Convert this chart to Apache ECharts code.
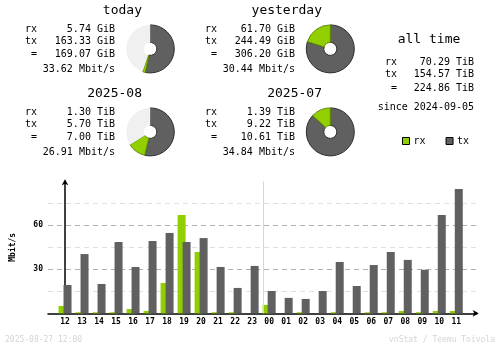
<!DOCTYPE html>
<html>
<head>
<meta charset="utf-8">
<script src="https://cdn.jsdelivr.net/npm/echarts@6/dist/echarts.min.js"></script>
<style>
  html, body { margin: 0; padding: 0; background: #ffffff; }
  #chart { width: 500px; height: 348px; }
</style>
</head>
<body>
<div id="chart"></div>
<script>
// vnStat-style summary: period totals with donuts, plus hourly rates.
const periodNames = ['today', 'yesterday', '2025-08', '2025-07'];
const periodRx = [5.74, 61.70, 1.30, 1.39];
const periodTx = [163.33, 244.49, 5.70, 9.22];
const periodTotal = [169.07, 306.20, 7.00, 10.61];
const periodUnit = ['GiB', 'GiB', 'TiB', 'TiB'];
const periodRate = [33.62, 30.44, 26.91, 34.84];
// each donut is scaled against this period's total (the previous period)
const compareWith = [1, 1, 3, 3];

const allTimeRx = 70.29;
const allTimeTx = 154.57;
const allTimeTotal = 224.86;
const allTimeUnit = 'TiB';
const sinceDate = '2024-09-05';

const hours = ['12', '13', '14', '15', '16', '17', '18', '19', '20', '21', '22', '23',
               '00', '01', '02', '03', '04', '05', '06', '07', '08', '09', '10', '11'];
const rxRate = [5.0, 0.7, 0.7, 0.7, 2.9, 1.6, 20.7, 67.0, 41.8, 0.7, 0.7, 0.0,
                5.7, 0.0, 0.7, 0.0, 0.7, 0.0, 0.7, 0.7, 1.6, 0.7, 1.6, 1.6];
const txRate = [19.3, 40.4, 20.0, 48.6, 31.6, 49.3, 54.8, 48.6, 51.3, 31.6, 17.3, 32.3,
                15.2, 10.5, 9.8, 15.2, 35.0, 18.6, 32.9, 41.8, 36.4, 29.7, 67.0, 84.8];
const yTickLabels = [30, 60];
const dayBreakAt = 11.5;   // between hour 23 and 00
const stampText = '2025-08-27 12:00';
const creditText = 'vnStat / Teemu Toivola';

const RX = '#92cf00';
const TX = '#606060';
const MONO = '"DejaVu Sans Mono", "Liberation Mono", monospace';

const chart = echarts.init(document.getElementById('chart'), null, { renderer: 'canvas' });

function txt(x, y, text, align, size, color, extra) {
  return Object.assign({
    type: 'text', x: x, y: y, silent: true,
    style: {
      text: text, fill: color || '#000', align: align || 'left', verticalAlign: 'middle',
      font: (size || 10) + 'px ' + MONO
    }
  }, extra || {});
}

const graphics = [];
const pieSeries = [];
const colX = [0, 180, 0, 180];
const rowY = [0, 0, 83, 83];

periodNames.forEach(function (name, i) {
  const dx = colX[i], dy = rowY[i];
  const u = periodUnit[i];
  graphics.push(txt(142 + dx, 10.5 + dy, name, 'right', 13));
  graphics.push(txt(25 + dx, 29.3 + dy, 'rx'));
  graphics.push(txt(115 + dx, 29.3 + dy, periodRx[i].toFixed(2) + ' ' + u, 'right'));
  graphics.push(txt(25 + dx, 41.3 + dy, 'tx'));
  graphics.push(txt(115 + dx, 41.3 + dy, periodTx[i].toFixed(2) + ' ' + u, 'right'));
  graphics.push(txt(25 + dx, 54.5 + dy, ' ='));
  graphics.push(txt(115 + dx, 54.5 + dy, periodTotal[i].toFixed(2) + ' ' + u, 'right'));
  graphics.push(txt(115 + dx, 69.3 + dy, periodRate[i].toFixed(2) + ' Mbit/s', 'right'));

  const ref = periodTotal[compareWith[i]];
  const rest = Math.max(0, ref - periodTotal[i]);
  pieSeries.push({
    type: 'pie',
    silent: true,
    animation: false,
    center: [150.3 + dx, 48.9 + dy],
    radius: [6.5, 24],
    startAngle: 90,
    clockwise: true,
    label: { show: false },
    labelLine: { show: false },
    emphasis: { disabled: true },
    data: [
      { value: periodTx[i], itemStyle: { color: TX, borderColor: '#2e2e2e', borderWidth: 1 } },
      { value: periodRx[i], itemStyle: { color: RX, borderColor: '#5f8c00', borderWidth: 1 } },
      { value: rest, itemStyle: { color: '#f0f0f0', borderWidth: 0 } }
    ]
  });
});

// all time block
graphics.push(txt(429, 40, 'all time', 'center', 13));
graphics.push(txt(385, 62, 'rx'));
graphics.push(txt(474, 62, allTimeRx.toFixed(2) + ' ' + allTimeUnit, 'right'));
graphics.push(txt(385, 74, 'tx'));
graphics.push(txt(474, 74, allTimeTx.toFixed(2) + ' ' + allTimeUnit, 'right'));
graphics.push(txt(385, 88, ' ='));
graphics.push(txt(474, 88, allTimeTotal.toFixed(2) + ' ' + allTimeUnit, 'right'));
graphics.push(txt(474, 107.7, 'since ' + sinceDate, 'right'));

// footer
graphics.push(txt(5, 340, stampText, 'left', 8, '#d4d4d4', { }));
graphics.push(txt(495, 340, creditText, 'right', 8, '#d4d4d4'));

const option = {
  backgroundColor: '#ffffff',
  animation: false,
  textStyle: { fontFamily: MONO },
  legend: {
    data: ['rx', 'tx'],
    left: 397, top: 131,
    icon: 'rect',
    itemWidth: 7, itemHeight: 7,
    itemGap: 20,
    selectedMode: false,
    textStyle: { fontFamily: MONO, fontSize: 10, color: '#000', padding: [0, 0, 0, -1] },
    itemStyle: { borderColor: '#000', borderWidth: 1 }
  },
  grid: { left: 48, right: 23.3, top: 181.3, bottom: 34.7 },
  xAxis: {
    type: 'value',
    min: -1, max: 24.2, interval: 1,
    axisLine: { show: true, lineStyle: { color: '#000', width: 1.5 },
                symbol: ['none', 'arrow'], symbolSize: [5, 6], symbolOffset: [0, 2] },
    axisTick: { show: false },
    splitLine: { show: false },
    axisLabel: {
      showMaxLabel: false, showMinLabel: false,
      margin: 5,
      fontFamily: MONO, fontSize: 8, fontWeight: 'bold', color: '#000',
      formatter: function (v) {
        return (Number.isInteger(v) && v >= 0 && v < hours.length) ? hours[v] : '';
      }
    }
  },
  yAxis: {
    type: 'value',
    min: 0, max: 90, interval: 15,
    name: 'Mbit/s',
    nameLocation: 'middle',
    nameRotate: 90,
    nameGap: 31,
    nameTextStyle: { fontFamily: MONO, fontSize: 8, fontWeight: 'bold', color: '#000' },
    axisLine: { show: true, lineStyle: { color: '#000', width: 1.5 },
                symbol: ['none', 'arrow'], symbolSize: [5, 6], symbolOffset: [0, 2] },
    axisTick: { show: false },
    axisLabel: {
      margin: 5,
      fontFamily: MONO, fontSize: 8, fontWeight: 'bold', color: '#000',
      formatter: function (v) { return yTickLabels.indexOf(v) >= 0 ? String(v) : ''; }
    },
    splitLine: {
      show: true,
      lineStyle: {
        type: [5, 4],
        width: 1,
        color: ['rgba(0,0,0,0)', '#e0e0e0', '#b0b0b0', '#e0e0e0', '#b0b0b0', '#e0e0e0', 'rgba(0,0,0,0)']
      }
    }
  },
  series: pieSeries.concat([
    {
      name: 'rx', type: 'bar', barWidth: 8, barGap: '-37.5%',
      itemStyle: { color: RX },
      silent: true,
      data: rxRate.map(function (v, i) { return [i, v]; })
    },
    {
      name: 'tx', type: 'bar', barWidth: 8, barGap: '-37.5%',
      itemStyle: { color: TX },
      silent: true,
      data: txRate.map(function (v, i) { return [i, v]; }),
      markLine: {
        silent: true, symbol: 'none', label: { show: false },
        lineStyle: { color: '#d8d8d8', type: 'solid', width: 1 },
        data: [{ xAxis: dayBreakAt }]
      }
    }
  ]),
  graphic: graphics
};

chart.setOption(option);
</script>
</body>
</html>
